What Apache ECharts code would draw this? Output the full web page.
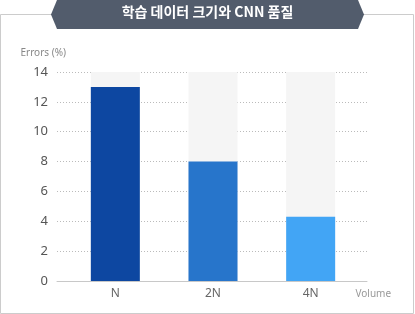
<!DOCTYPE html>
<html><head><meta charset="utf-8">
<script src="https://cdn.jsdelivr.net/npm/echarts@6/dist/echarts.min.js"></script>
<style>html,body{margin:0;padding:0;background:#fff}#c{width:415px;height:314px}</style>
</head><body><div id="c"></div>
<script>
const title = '학습 데이터 크기와 CNN 품질';
const categories = ['N', '2N', '4N'];
const errors = [13, 8, 4.3];
const barColors = ['#0d47a1', '#2775cb', '#42a5f5'];
const yTicks = [0, 2, 4, 6, 8, 10, 12, 14];
const yMax = 14;
const yName = 'Errors (%)';
const xName = 'Volume';

const chart = echarts.init(document.getElementById('c'), null, {renderer: 'canvas'});
const font = "'Noto Sans', 'Noto Sans CJK KR', sans-serif";
chart.setOption({
  animation: false,
  textStyle: {fontFamily: font},
  graphic: [
    {type: 'polyline', shape: {points: [[0.5, 313.5], [0.5, 14.5], [413.5, 14.5], [413.5, 313.5], [0.5, 313.5]]},
     style: {stroke: '#cccccc', lineWidth: 1, fill: null}, z: 0},
    {type: 'polygon', shape: {points: [[51, 14.5], [57, 0], [358, 0], [364, 14.5], [358, 29], [57, 29]]},
     style: {fill: '#525c6c'}, z: 1},
    {type: 'text', left: 'center', top: 5, style: {text: title, fill: '#ffffff', font: "bold 14px 'Noto Sans CJK KR', sans-serif"}, z: 2}
  ],
  grid: [
    {left: 57, right: 48, top: 72, bottom: 33},
    {left: 66.5, right: 55.5, top: 72, bottom: 33}
  ],
  xAxis: [
    {gridIndex: 0, type: 'category', data: categories, axisLine: {lineStyle: {color: '#c8c8c8'}},
     axisTick: {show: false}, axisLabel: {show: false}},
    {gridIndex: 1, type: 'category', data: categories, axisLine: {show: false}, axisTick: {show: false},
     axisLabel: {color: '#666', fontSize: 12, margin: 7},
     name: xName, nameLocation: 'end', nameGap: -4,
     nameTextStyle: {color: '#999', fontSize: 10, verticalAlign: 'top', padding: [8, 0, 0, 0]}}
  ],
  yAxis: [
    {gridIndex: 0, type: 'value', min: 0, max: yMax, interval: 2,
     axisLine: {show: false}, axisTick: {show: false},
     axisLabel: {color: '#555', fontSize: 13, margin: 9, formatter: v => yTicks.includes(v) ? String(v) : ''},
     splitLine: {lineStyle: {color: '#bbbbbb', type: [1, 2]}},
     name: yName, nameLocation: 'end', nameGap: 14,
     nameTextStyle: {color: '#888', fontSize: 10, align: 'right', padding: [0, -9, 0, 0]}},
    {gridIndex: 1, type: 'value', min: 0, max: yMax, interval: 2, show: false}
  ],
  series: [
    {type: 'bar', xAxisIndex: 1, yAxisIndex: 1, barWidth: 49, barGap: '-100%',
     data: categories.map(() => yMax), itemStyle: {color: '#f5f5f5'}, silent: true, z: 1},
    {type: 'bar', xAxisIndex: 1, yAxisIndex: 1, barWidth: 49,
     data: errors.map((v, i) => ({value: v, itemStyle: {color: barColors[i]}})), z: 2}
  ]
});
</script></body></html>
